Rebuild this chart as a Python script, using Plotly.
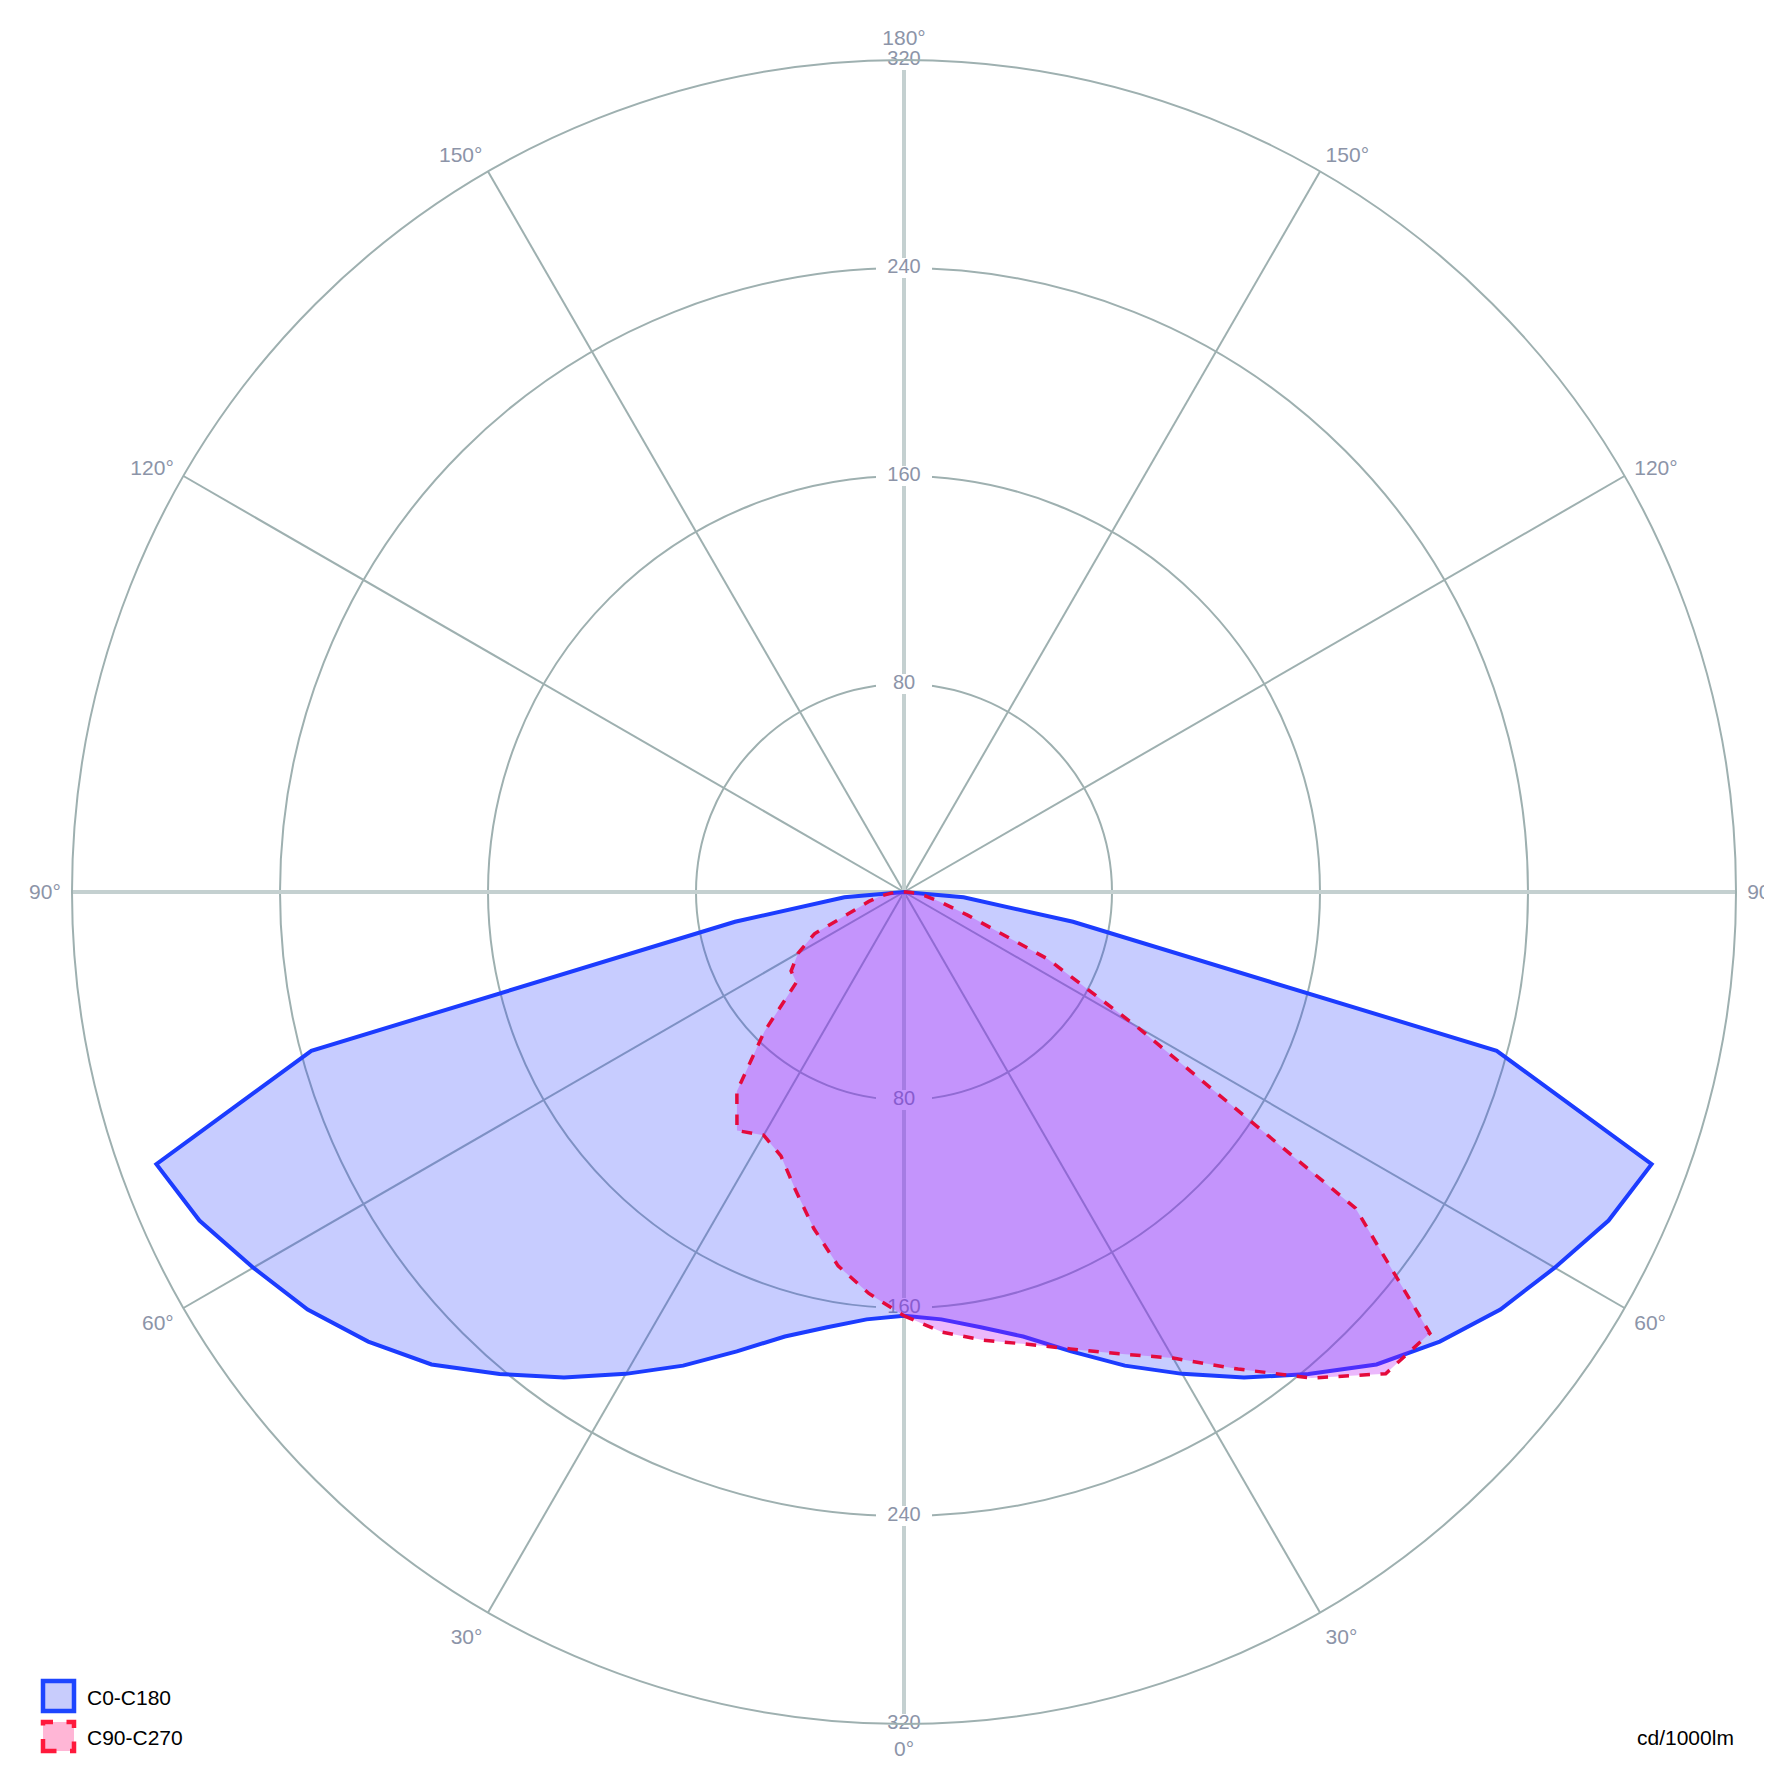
import plotly.graph_objects as go

# ---- data (cd/1000lm) ----
gamma = [0, 5, 10, 15, 20, 25, 30, 35, 40, 45, 50, 55, 60, 65, 70, 75, 80, 85, 90]
c0 = [163, 165, 170, 177, 188, 201, 214, 228, 242, 257, 269, 280, 289, 299, 306, 236, 66, 23, 0]
c180 = [163, 165, 170, 177, 188, 201, 214, 228, 242, 257, 269, 280, 289, 299, 306, 236, 66, 23, 0]
c90 = [163, 170, 175, 180, 187, 196, 207, 224, 244, 262, 264, 212, 103, 61, 26, 14, 8, 4, 1]
c270 = [163, 155, 146, 134, 122, 112, 108, 112, 100, 76, 54, 53, 47, 38, 20, 14, 9, 5, 1]

radial_ticks = [80, 160, 240, 320]
angle_ticks = [0, 30, 60, 90, 120, 150, 180, 210, 240, 270, 300, 330]
angle_labels = ["0°", "30°", "60°", "90°", "120°", "150°", "180°",
                "150°", "120°", "90°", "60°", "30°"]
series_names = ["C0-C180", "C90-C270"]

FONT = "Liberation Sans, Arial, sans-serif"
GRID = "rgb(158,176,176)"
AXIS = "rgb(196,208,208)"
LABEL = "rgb(140,148,168)"
BLUE_LINE = "rgb(28,60,255)"
BLUE_FILL = "rgba(30,50,255,0.25)"
RED_LINE = "rgb(228,10,60)"
RED_FILL = "rgba(190,20,245,0.30)"

# page offset (body margin) and plot area in pixels
OFF = 8
W, H = 1772, 1773
ML, MT = 64, 52
PW = PH = 1664
MR, MB = W - ML - PW, H - MT - PH


def px(x):
    return (x - OFF - ML) / PW


def py(y):
    return (MT + PH + OFF - y) / PH


def polygon(right, left):
    theta = list(gamma) + [360 - g for g in reversed(gamma)]
    r = list(right) + list(reversed(left))
    return theta, r


fig = go.Figure()

# ---- background subplot: main cross lines and radial labels ----
rmax = radial_ticks[-1]
fig.add_trace(go.Scatterpolar(
    r=[rmax, 0, rmax, None, rmax, 0, rmax],
    theta=[0, 0, 180, None, 90, 0, 270],
    mode="lines", line=dict(color=AXIS, width=4),
    hoverinfo="skip", showlegend=False, subplot="polar"))

fig.add_trace(go.Scatterpolar(
    r=radial_ticks + radial_ticks,
    theta=[180] * len(radial_ticks) + [0] * len(radial_ticks),
    text=[str(v) for v in radial_ticks] * 2,
    mode="markers+text", textposition="middle center",
    textfont=dict(family=FONT, size=20, color=LABEL),
    marker=dict(symbol="line-ew", size=40, color="white",
                line=dict(color="white", width=20)),
    hoverinfo="skip", showlegend=False, subplot="polar"))

# ---- data subplot ----
th, rr = polygon(c0, c180)
fig.add_trace(go.Scatterpolar(
    r=rr, theta=th, mode="lines", fill="toself",
    fillcolor=BLUE_FILL, line=dict(color=BLUE_LINE, width=4),
    name=series_names[0], subplot="polar2", hoverinfo="skip", showlegend=False))

th, rr = polygon(c90, c270)
fig.add_trace(go.Scatterpolar(
    r=rr, theta=th, mode="lines", fill="toself",
    fillcolor=RED_FILL, line=dict(color=RED_LINE, width=3.5, dash="dash"),
    name=series_names[1], subplot="polar2", hoverinfo="skip", showlegend=False))

# ---- legend drawn as shapes + text ----
shapes = [
    dict(type="rect", xref="paper", yref="paper",
         x0=px(43), x1=px(74), y0=py(1711), y1=py(1681),
         line=dict(color="rgb(30,70,255)", width=4.5), fillcolor="rgb(200,204,252)"),
    dict(type="rect", xref="paper", yref="paper",
         x0=px(43), x1=px(74), y0=py(1751), y1=py(1722),
         line=dict(color="rgb(255,25,60)", width=4.5, dash="dash"),
         fillcolor="rgb(255,182,214)"),
]
annotations = [
    dict(text=series_names[0], xref="paper", yref="paper", x=px(85), y=py(1697),
         xanchor="left", yanchor="middle", showarrow=False,
         font=dict(family=FONT, size=21, color="black")),
    dict(text=series_names[1], xref="paper", yref="paper", x=px(85), y=py(1737),
         xanchor="left", yanchor="middle", showarrow=False,
         font=dict(family=FONT, size=21, color="black")),
    dict(text="cd/1000lm", xref="paper", yref="paper", x=px(1736), y=py(1737),
         xanchor="right", yanchor="middle", showarrow=False,
         font=dict(family=FONT, size=21, color="black")),
]

fig.update_layout(
    width=W, height=H,
    margin=dict(l=ML, r=MR, t=MT, b=MB, autoexpand=False),
    paper_bgcolor="white",
    showlegend=False,
    font=dict(family=FONT, size=20, color="black"),
    polar=dict(
        domain=dict(x=[0, 1], y=[0, 1]),
        bgcolor="white",
        radialaxis=dict(range=[0, rmax], tickvals=radial_ticks, showticklabels=False,
                        showline=False, ticks="", gridcolor=GRID, gridwidth=2),
        angularaxis=dict(rotation=270, direction="counterclockwise",
                         tickvals=angle_ticks, ticktext=angle_labels,
                         ticks="outside", ticklen=6, tickcolor="rgba(0,0,0,0)",
                         gridcolor=GRID, gridwidth=1.5, showline=True,
                         linecolor=GRID, linewidth=2,
                         tickfont=dict(family=FONT, size=21, color=LABEL)),
    ),
    polar2=dict(
        domain=dict(x=[0, 1], y=[0, 1]),
        bgcolor="rgba(0,0,0,0)",
        radialaxis=dict(range=[0, rmax], visible=False),
        angularaxis=dict(rotation=270, direction="counterclockwise", visible=False),
    ),
    shapes=shapes,
    annotations=annotations,
)

fig.write_html("out.html")
